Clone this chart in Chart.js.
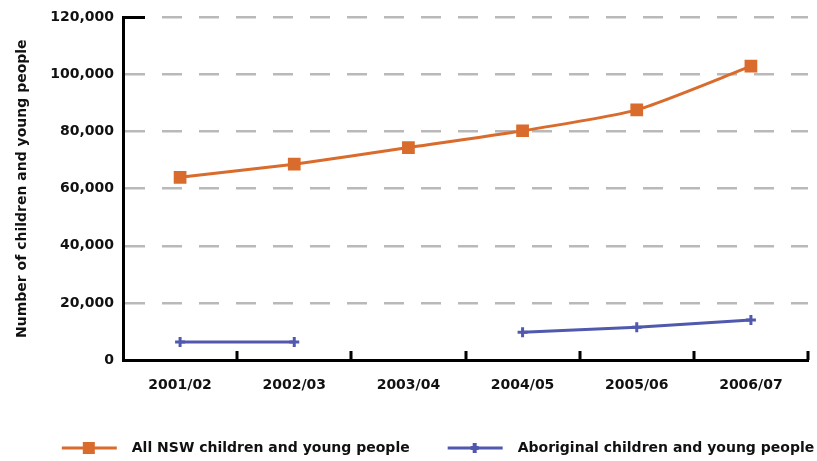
<!DOCTYPE html>
<html>
<head>
<meta charset="utf-8">
<script src="https://cdn.jsdelivr.net/npm/chart.js@4.4.1/dist/chart.umd.min.js"></script>
<style>
  html, body { margin: 0; padding: 0; background: #fff; }
  #wrap { width: 817px; height: 461px; }
</style>
</head>
<body>
<div id="wrap"><canvas id="myChart" width="817" height="461"></canvas></div>
<script>
const categories = ["2001/02", "2002/03", "2003/04", "2004/05", "2005/06", "2006/07"];
const allNsw = [64000, 68600, 74400, 80300, 87600, 102900];
const aboriginal = [6300, 6300, null, 9700, 11500, 14000];
const yTicks = [0, 20000, 40000, 60000, 80000, 100000, 120000];

const orange = "#d96b2c";
const blue = "#5059ad";
const textFont = { family: "DejaVu Sans", size: 14, weight: "bold" };

// legend swatches: blank lead-in, then a line with the series marker in the middle
const LEAD = 36;
const SW = LEAD + 63;
function swatch(color, marker) {
    const c = document.createElement("canvas");
    c.width = SW;
    c.height = 16;
    const g = c.getContext("2d");
    g.strokeStyle = color;
    g.lineWidth = 3;
    g.beginPath();
    g.moveTo(LEAD, 8);
    g.lineTo(LEAD + 55, 8);
    g.stroke();
    g.fillStyle = color;
    if (marker === "square") {
        g.fillRect(LEAD + 21, 2, 12, 12);
    } else {
        g.fillRect(LEAD + 25, 3, 4, 10);
        g.fillRect(LEAD + 23, 6, 8, 4);
    }
    return c;
}
const swatches = [swatch(orange, "square"), swatch(blue, "plus")];

// inward ticks on the category axis and the black cap at the top of the value axis
const axisMarks = {
    id: "axisMarks",
    afterLayout(chart) {
        // legend row sits a little right of centre and close to the bottom edge
        chart.legend.left += 13;
        chart.legend.right += 13;
        chart.legend.top += 4;
        chart.legend.bottom += 4;
    },
    afterDraw(chart) {
        const { ctx, chartArea, scales } = chart;
        const x = scales.x;
        ctx.save();
        ctx.strokeStyle = "#000";
        ctx.lineWidth = 3;
        ctx.beginPath();
        for (let i = 0; i < categories.length; i++) {
            const px = Math.round(x.getPixelForTick(i) + x.width / categories.length / 2);
            ctx.moveTo(px, chartArea.bottom);
            ctx.lineTo(px, chartArea.bottom - 9);
        }
        const top = scales.y.getPixelForValue(120000);
        ctx.moveTo(chartArea.left, top);
        ctx.lineTo(chartArea.left + 22, top);
        ctx.stroke();
        ctx.restore();
    },
};

const ctx = document.getElementById("myChart");

const chart = new Chart(ctx, {
    type: "line",
    data: {
        labels: categories,
        datasets: [
            {
                label: "All NSW children and young people",
                data: allNsw,
                borderColor: orange,
                backgroundColor: orange,
                borderWidth: 3,
                pointStyle: "rect",
                pointRadius: 9,
                pointBorderWidth: 0,
                tension: 0.2,
            },
            {
                label: "Aboriginal children and young people",
                data: aboriginal,
                borderColor: blue,
                backgroundColor: blue,
                borderWidth: 3,
                pointStyle: "cross",
                pointRadius: 5,
                pointBorderWidth: 3,
                spanGaps: false,
            },
        ],
    },
    options: {
        responsive: false,
        animation: false,
        layout: {
            padding: { left: 6, right: 9, top: 4, bottom: 0 },
        },
        scales: {
            x: {
                offset: true,
                grid: { display: false },
                border: { display: true, color: "#000", width: 3 },
                ticks: { color: "#111", font: textFont, padding: 9, maxRotation: 0 },
                afterFit(scale) {
                    scale.height = 75;
                },
            },
            y: {
                min: 0,
                max: 120000,
                afterBuildTicks(scale) {
                    scale.ticks = yTicks.map((v) => ({ value: v }));
                },
                ticks: {
                    color: "#111",
                    font: textFont,
                    padding: 9,
                    callback: (v) => v.toLocaleString("en-US"),
                },
                grid: {
                    color: "#b9b9b9",
                    lineWidth: 2.5,
                    drawTicks: false,
                },
                border: { display: true, color: "#000", width: 3, dash: [20, 17] },
                title: {
                    display: true,
                    text: "Number of children and young people",
                    color: "#111",
                    font: { family: "DejaVu Sans", size: 14, weight: "bold" },
                    padding: { top: 8, bottom: 0 },
                },
                afterFit(scale) {
                    scale.width = 117;
                },
            },
        },
        plugins: {
            tooltip: { enabled: false },
            title: { display: false },
            legend: {
                position: "bottom",
                labels: {
                    color: "#111",
                    font: textFont,
                    usePointStyle: true,
                    pointStyleWidth: SW,
                    padding: 2,
                    generateLabels(chart) {
                        return chart.data.datasets.map((ds, i) => ({
                            text: ds.label,
                            fontColor: "#111",
                            pointStyle: swatches[i],
                            strokeStyle: ds.borderColor,
                            fillStyle: ds.backgroundColor,
                            lineWidth: 0,
                            datasetIndex: i,
                            hidden: false,
                        }));
                    },
                },
            },
        },
    },
    plugins: [axisMarks],
});
</script>
</body>
</html>
